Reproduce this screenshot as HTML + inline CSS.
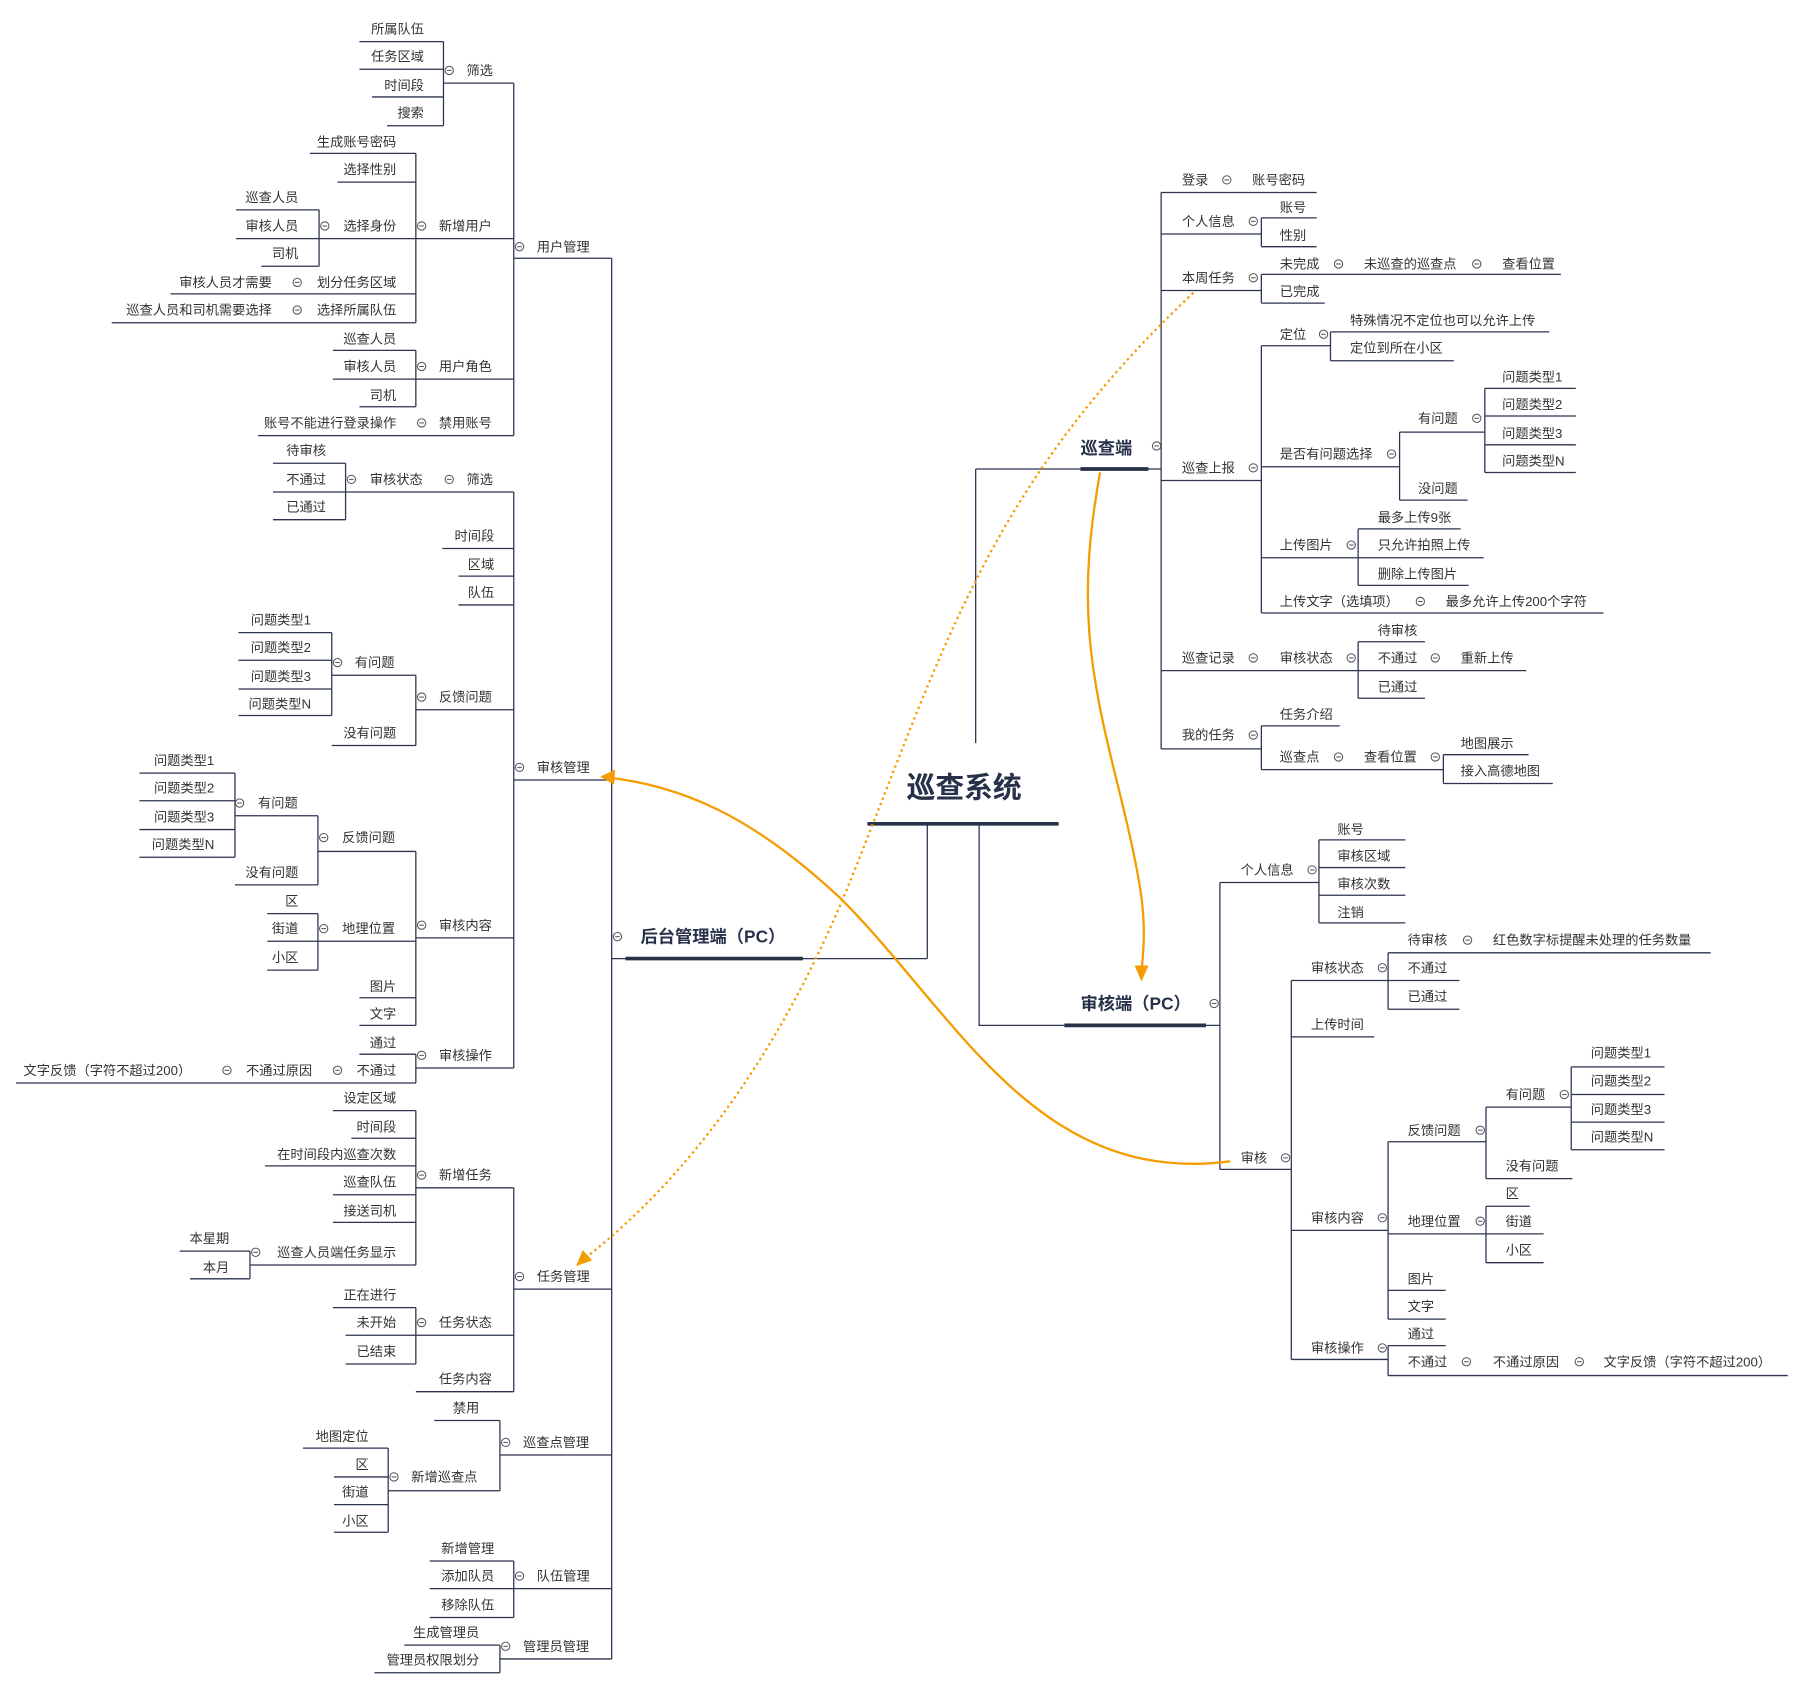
<!DOCTYPE html>
<html><head><meta charset="utf-8"><style>
html,body{margin:0;padding:0;background:#fff;}
svg{display:block}
text{font-family:"Liberation Sans","Noto Sans CJK SC",sans-serif;font-size:11.5px;fill:#333}
.e{text-anchor:end}
.b{font-weight:bold;fill:#27314a}
.l{stroke:#2b3350;stroke-width:1.1;fill:none}
.t{stroke:#27314a;stroke-width:3.2;fill:none}
.c circle{fill:#fff;stroke:#555;stroke-width:0.9}
</style></head><body>
<svg width="1797" height="1681" viewBox="0 0 1560 1459" xmlns="http://www.w3.org/2000/svg">
<defs><g id="c" class="c"><circle r="3.6"/><line x1="-2" y1="0" x2="2" y2="0" stroke="#555" stroke-width="0.9"/></g></defs>
<!-- lines -->
<path class="l" d="
M1008 167H1143 M1008 203H1095 M1095 189H1143 M1095 214H1143 M1008 252H1095 M1095 238H1355 M1095 263H1150
M1008 417H1095 M1095 300H1155 M1155 288H1345 M1155 313H1262 M1095 405H1215 M1215 375H1289
M1289 337H1368 M1289 361H1368 M1289 386H1368 M1289 410H1368 M1215 434H1274 M1095 484H1288 M1179 459H1268 M1179 508H1275
M1095 532H1392 M1008 582H1325 M1179 557H1237 M1179 606H1237 M1008 650H1095 M1095 630H1163 M1095 668H1253 M1253 655H1327 M1253 680H1348
M1008 167V650 M1095 189V214 M1095 238V263 M1095 300V532 M1155 288V313 M1215 375V434 M1289 337V410 M1179 459V508 M1179 557V606 M1095 630V668 M1253 655V680
M1059 766H1145 M1145 729H1220 M1145 753H1220 M1145 777H1220 M1145 801H1220 M1059 1015H1121 M1121 851H1267 M1205 827H1485 M1205 876H1267
M1121 900H1193 M1121 1068H1205 M1205 991H1290 M1290 961H1364 M1364 926H1445 M1364 950H1445 M1364 974H1445 M1364 998H1445 M1290 1023H1365
M1205 1071H1340 M1290 1047H1328 M1290 1096H1340 M1205 1120H1255 M1205 1145H1255 M1121 1180H1205 M1205 1168H1255 M1205 1194H1552
M1059 766V1015 M1145 729V801 M1121 851V1180 M1205 827V876 M1205 991V1145 M1290 961V1023 M1364 926V998 M1290 1047V1096 M1205 1168V1194
M446 224H531 M385 72H446 M312 36H385 M312 60H385 M323 84H385 M336 109H385 M205 207H446 M205 182H277 M227 231H277 M269 133H361 M293 158H361
M148 255H361 M97 280H361 M289 329H446 M289 304H361 M312 353H361 M224 378H446
M446 72V378 M385 36V109 M361 133V280 M277 182V231 M361 304V353
M446 677H531 M237 427H446 M237 402H300 M237 451H300 M384 476H446 M398 500H446 M398 525H446 M361 616H446 M288 586H361
M207 549H288 M207 573H288 M207 598H288 M207 621H288 M288 647H361 M361 814H446 M276 739H361 M204 708H276
M121 671H204 M121 695H204 M121 720H204 M121 744H204 M204 768H276 M232 817H361 M232 793H276 M232 842H276 M312 866H361 M312 890H361
M361 927H446 M312 915H361 M14 940H361
M446 427V927 M300 402V451 M361 586V647 M288 549V621 M361 739V890 M276 708V768 M204 671V744 M276 793V842 M361 915V940
M446 1119H531 M361 1031H446 M289 964H361 M305 988H361 M230 1012H361 M289 1037H361 M289 1061H361 M217 1098H361 M156 1086H217 M165 1110H217
M300 1159H446 M289 1135H361 M300 1184H361 M361 1208H446
M446 1031V1208 M361 964V1098 M217 1086V1110 M361 1135V1184
M434 1263H531 M377 1233H434 M337 1294H434 M263 1257H337 M290 1282H337 M290 1306H337 M290 1330H337 M434 1233V1294 M337 1257V1330
M373 1379H531 M373 1355H446 M373 1404H446 M446 1355V1404
M434 1440H531 M325 1452H434 M351 1428H434 M434 1428V1452
M531 224V1440 M531 832H543 M697 832H805 M805 715V832
M847 407V645 M847 407H938 M997 407H1008 M850 715V890H924 M1047 890H1059"/>
<path class="t" d="M753 715H919 M543 832H697 M938 407H997 M924 890H1047"/>
<!-- circles -->
<use href="#c" x="1065" y="156"/><use href="#c" x="1088" y="192"/><use href="#c" x="1088" y="241"/><use href="#c" x="1162" y="229"/><use href="#c" x="1282" y="229"/>
<use href="#c" x="1088" y="406"/><use href="#c" x="1149" y="290"/><use href="#c" x="1208" y="394"/><use href="#c" x="1282" y="363"/><use href="#c" x="1173" y="473"/><use href="#c" x="1233" y="522"/>
<use href="#c" x="1088" y="571"/><use href="#c" x="1173" y="571"/><use href="#c" x="1246" y="571"/><use href="#c" x="1088" y="638"/><use href="#c" x="1162" y="657"/><use href="#c" x="1246" y="657"/>
<use href="#c" x="1004" y="387"/><use href="#c" x="1054" y="871"/><use href="#c" x="536" y="813"/>
<use href="#c" x="1139" y="755"/><use href="#c" x="1116" y="1005"/><use href="#c" x="1200" y="840"/><use href="#c" x="1274" y="816"/><use href="#c" x="1200" y="1057"/><use href="#c" x="1285" y="981"/><use href="#c" x="1358" y="950"/><use href="#c" x="1285" y="1060"/><use href="#c" x="1200" y="1170"/><use href="#c" x="1273" y="1182"/><use href="#c" x="1371" y="1182"/>
<use href="#c" x="451" y="214"/><use href="#c" x="390" y="61"/><use href="#c" x="366" y="196"/><use href="#c" x="282" y="196"/><use href="#c" x="258" y="245"/><use href="#c" x="258" y="269"/><use href="#c" x="366" y="318"/><use href="#c" x="366" y="367"/>
<use href="#c" x="451" y="666"/><use href="#c" x="390" y="416"/><use href="#c" x="305" y="416"/><use href="#c" x="366" y="605"/><use href="#c" x="293" y="575"/><use href="#c" x="366" y="803"/><use href="#c" x="281" y="727"/><use href="#c" x="208" y="697"/><use href="#c" x="281" y="806"/><use href="#c" x="366" y="916"/><use href="#c" x="293" y="929"/><use href="#c" x="197" y="929"/>
<use href="#c" x="451" y="1108"/><use href="#c" x="366" y="1020"/><use href="#c" x="222" y="1087"/><use href="#c" x="366" y="1148"/><use href="#c" x="439" y="1252"/><use href="#c" x="342" y="1282"/><use href="#c" x="451" y="1368"/><use href="#c" x="439" y="1429"/>
<!-- titles -->
<text class="b" x="837" y="692" style="font-size:25px" text-anchor="middle">巡查系统</text>
<text class="b" x="938" y="394" style="font-size:15px">巡查端</text>
<text class="b" x="938" y="876" style="font-size:15px">审核端（PC）</text>
<text class="b" x="556" y="818" style="font-size:15px">后台管理端（PC）</text>
<!-- right top -->
<text x="1026" y="160">登录</text><text x="1087" y="160">账号密码</text>
<text x="1026" y="196">个人信息</text><text x="1111" y="184">账号</text><text x="1111" y="208">性别</text>
<text x="1026" y="245">本周任务</text><text x="1111" y="233">未完成</text><text x="1184" y="233">未巡查的巡查点</text><text x="1304" y="233">查看位置</text><text x="1111" y="257">已完成</text>
<text x="1111" y="294">定位</text><text x="1172" y="282">特殊情况不定位也可以允许上传</text><text x="1172" y="306">定位到所在小区</text>
<text x="1026" y="410">巡查上报</text><text x="1111" y="398">是否有问题选择</text><text x="1231" y="367">有问题</text>
<text x="1304" y="331">问题类型1</text><text x="1304" y="355">问题类型2</text><text x="1304" y="380">问题类型3</text><text x="1304" y="404">问题类型N</text><text x="1231" y="428">没问题</text>
<text x="1111" y="477">上传图片</text><text x="1196" y="453">最多上传9张</text><text x="1196" y="477">只允许拍照上传</text><text x="1196" y="502">删除上传图片</text>
<text x="1111" y="526">上传文字（选填项）</text><text x="1255" y="526">最多允许上传200个字符</text>
<text x="1026" y="575">巡查记录</text><text x="1111" y="575">审核状态</text><text x="1196" y="551">待审核</text><text x="1196" y="575">不通过</text><text x="1268" y="575">重新上传</text><text x="1196" y="600">已通过</text>
<text x="1026" y="642">我的任务</text><text x="1111" y="624">任务介绍</text><text x="1111" y="661">巡查点</text><text x="1184" y="661">查看位置</text><text x="1268" y="649">地图展示</text><text x="1268" y="673">接入高德地图</text>
<!-- right bottom -->
<text x="1077" y="759">个人信息</text><text x="1161" y="724">账号</text><text x="1161" y="747">审核区域</text><text x="1161" y="771">审核次数</text><text x="1161" y="796">注销</text>
<text x="1077" y="1009">审核</text><text x="1138" y="844">审核状态</text><text x="1222" y="820">待审核</text><text x="1296" y="820">红色数字标提醒未处理的任务数量</text><text x="1222" y="844">不通过</text><text x="1222" y="869">已通过</text>
<text x="1138" y="893">上传时间</text><text x="1138" y="1061">审核内容</text><text x="1222" y="985">反馈问题</text><text x="1307" y="954">有问题</text>
<text x="1381" y="918">问题类型1</text><text x="1381" y="942">问题类型2</text><text x="1381" y="967">问题类型3</text><text x="1381" y="991">问题类型N</text><text x="1307" y="1016">没有问题</text>
<text x="1222" y="1064">地理位置</text><text x="1307" y="1040">区</text><text x="1307" y="1064">街道</text><text x="1307" y="1089">小区</text><text x="1222" y="1114">图片</text><text x="1222" y="1138">文字</text>
<text x="1138" y="1174">审核操作</text><text x="1222" y="1162">通过</text><text x="1222" y="1186">不通过</text><text x="1296" y="1186">不通过原因</text><text x="1392" y="1186">文字反馈（字符不超过200）</text>
<!-- left: 用户管理 -->
<text x="466" y="218">用户管理</text><text x="405" y="65">筛选</text>
<text class="e" x="368" y="29">所属队伍</text><text class="e" x="368" y="53">任务区域</text><text class="e" x="368" y="78">时间段</text><text class="e" x="368" y="102">搜索</text>
<text x="381" y="200">新增用户</text><text class="e" x="344" y="127">生成账号密码</text><text class="e" x="344" y="151">选择性别</text><text class="e" x="344" y="200">选择身份</text>
<text class="e" x="259" y="175">巡查人员</text><text class="e" x="259" y="200">审核人员</text><text class="e" x="259" y="224">司机</text>
<text class="e" x="344" y="249">划分任务区域</text><text class="e" x="236" y="249">审核人员才需要</text><text class="e" x="344" y="273">选择所属队伍</text><text class="e" x="236" y="273">巡查人员和司机需要选择</text>
<text x="381" y="322">用户角色</text><text class="e" x="344" y="298">巡查人员</text><text class="e" x="344" y="322">审核人员</text><text class="e" x="344" y="347">司机</text>
<text x="381" y="371">禁用账号</text><text class="e" x="344" y="371">账号不能进行登录操作</text>
<!-- 审核管理 -->
<text x="466" y="670">审核管理</text><text x="405" y="420">筛选</text><text x="321" y="420">审核状态</text>
<text class="e" x="283" y="395">待审核</text><text class="e" x="283" y="420">不通过</text><text class="e" x="283" y="444">已通过</text>
<text class="e" x="429" y="469">时间段</text><text class="e" x="429" y="494">区域</text><text class="e" x="429" y="518">队伍</text>
<text x="381" y="609">反馈问题</text><text x="308" y="579">有问题</text>
<text class="e" x="270" y="542">问题类型1</text><text class="e" x="270" y="566">问题类型2</text><text class="e" x="270" y="591">问题类型3</text><text class="e" x="270" y="615">问题类型N</text><text class="e" x="344" y="640">没有问题</text>
<text x="381" y="807">审核内容</text><text x="297" y="731">反馈问题</text><text x="224" y="701">有问题</text>
<text class="e" x="186" y="664">问题类型1</text><text class="e" x="186" y="688">问题类型2</text><text class="e" x="186" y="713">问题类型3</text><text class="e" x="186" y="737">问题类型N</text><text class="e" x="259" y="761">没有问题</text>
<text x="297" y="810">地理位置</text><text class="e" x="259" y="786">区</text><text class="e" x="259" y="810">街道</text><text class="e" x="259" y="835">小区</text>
<text class="e" x="344" y="860">图片</text><text class="e" x="344" y="884">文字</text>
<text x="381" y="920">审核操作</text><text class="e" x="344" y="909">通过</text><text class="e" x="344" y="933">不通过</text><text class="e" x="271" y="933">不通过原因</text><text class="e" x="166" y="933">文字反馈（字符不超过200）</text>
<!-- 任务管理 -->
<text x="466" y="1112">任务管理</text><text x="381" y="1024">新增任务</text>
<text class="e" x="344" y="957">设定区域</text><text class="e" x="344" y="982">时间段</text><text class="e" x="344" y="1006">在时间段内巡查次数</text><text class="e" x="344" y="1030">巡查队伍</text><text class="e" x="344" y="1055">接送司机</text>
<text class="e" x="344" y="1091">巡查人员端任务显示</text><text class="e" x="199" y="1079">本星期</text><text class="e" x="199" y="1104">本月</text>
<text x="381" y="1152">任务状态</text><text class="e" x="344" y="1128">正在进行</text><text class="e" x="344" y="1152">未开始</text><text class="e" x="344" y="1177">已结束</text>
<text x="381" y="1201">任务内容</text>
<!-- 巡查点管理 -->
<text x="454" y="1256">巡查点管理</text><text class="e" x="416" y="1226">禁用</text><text x="357" y="1286">新增巡查点</text>
<text class="e" x="320" y="1251">地图定位</text><text class="e" x="320" y="1275">区</text><text class="e" x="320" y="1299">街道</text><text class="e" x="320" y="1324">小区</text>
<text x="466" y="1372">队伍管理</text><text class="e" x="429" y="1348">新增管理</text><text class="e" x="429" y="1372">添加队员</text><text class="e" x="429" y="1397">移除队伍</text>
<text x="454" y="1433">管理员管理</text><text class="e" x="416" y="1421">生成管理员</text><text class="e" x="416" y="1445">管理员权限划分</text>
<!-- orange connectors -->
<g fill="none" stroke="#f59c00" stroke-width="2">
<path d="M1036 254 C860 420 820 560 740 760 C680 910 600 1020 508 1092" stroke-dasharray="2 3"/>
<path d="M955 410 C935 520 945 580 970 680 C995 780 995 800 991 843"/>
<path d="M1068 1008 C900 1030 830 880 730 780 C650 705 590 683 530 675"/>
</g>
<g fill="#f59c00">
<polygon points="500,1099 506,1085 514,1094"/>
<polygon points="991,852 985,838 997,838"/>
<polygon points="521,674 534,668 533,681"/>
</g>
</svg>
</body></html>
